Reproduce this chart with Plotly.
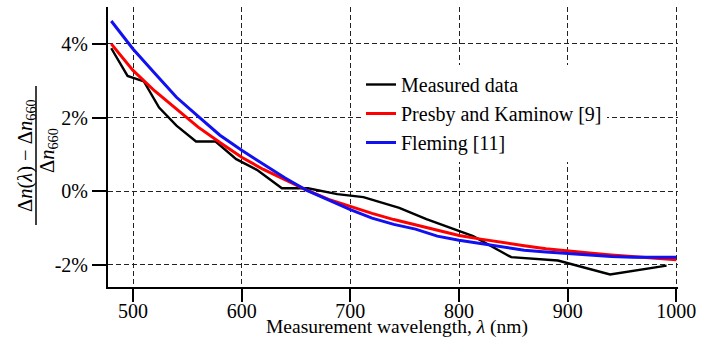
import plotly.graph_objects as go

# Measured data
meas_wl = [480, 495, 510, 524, 540, 558, 576, 595, 614, 637, 661, 688, 712, 745, 770, 798, 813, 848, 891, 939, 991]
meas_val = [3.88, 3.13, 2.98, 2.27, 1.78, 1.35, 1.35, 0.87, 0.58, 0.08, 0.08, -0.08, -0.16, -0.45, -0.76, -1.06, -1.22, -1.79, -1.88, -2.26, -2.02]

# Presby and Kaminow [9]
pk_wl = [480, 500, 520, 540, 560, 580, 600, 620, 640, 660, 680, 700, 720, 740, 760, 780, 800, 820, 840, 860, 880, 900, 920, 940, 960, 980, 1000]
pk_val = [4.00, 3.28, 2.72, 2.23, 1.74, 1.32, 0.92, 0.59, 0.31, 0.03, -0.22, -0.42, -0.60, -0.77, -0.92, -1.06, -1.20, -1.30, -1.40, -1.48, -1.56, -1.63, -1.68, -1.73, -1.78, -1.82, -1.86]

# Fleming [11]
fl_wl = [480, 500, 520, 540, 560, 580, 600, 620, 640, 660, 680, 700, 720, 740, 760, 780, 800, 820, 840, 860, 880, 900, 920, 940, 960, 980, 1000]
fl_val = [4.62, 3.86, 3.20, 2.55, 2.03, 1.52, 1.11, 0.74, 0.36, 0.02, -0.24, -0.50, -0.73, -0.90, -1.03, -1.22, -1.33, -1.42, -1.52, -1.60, -1.65, -1.69, -1.74, -1.77, -1.79, -1.79, -1.79]

x_ticks = [500, 600, 700, 800, 900, 1000]
x_tick_labels = ["500", "600", "700", "800", "900", "1000"]
y_ticks = [-2, 0, 2, 4]
y_tick_labels = ["-2%", "0%", "2%", "4%"]

FONT = "Liberation Serif"

fig = go.Figure()
fig.add_trace(go.Scatter(x=meas_wl, y=meas_val, mode="lines", name="Measured data",
                         line=dict(color="#000000", width=2.4)))
fig.add_trace(go.Scatter(x=pk_wl, y=pk_val, mode="lines", name="Presby and Kaminow [9]",
                         line=dict(color="#ff0000", width=3)))
fig.add_trace(go.Scatter(x=fl_wl, y=fl_val, mode="lines", name="Fleming [11]",
                         line=dict(color="#1010f0", width=3)))

W, H = 722, 341
L, R, T, B = 108, 44, 7, 54
PW, PH = W - L - R, H - T - B

def px2paper_x(px):
    return (px - L) / PW

def px2paper_y(py):
    return (H - B - py) / PH

fig.update_layout(
    width=W, height=H,
    margin=dict(l=L, r=R, t=T, b=B, pad=0),
    paper_bgcolor="white", plot_bgcolor="white",
    font=dict(family=FONT, size=20, color="#000"),
    showlegend=True,
    legend=dict(x=px2paper_x(361), y=px2paper_y(65), xanchor="left", yanchor="top",
                bgcolor="white", borderwidth=0, font=dict(family=FONT, size=20, color="#000"),
                itemwidth=30),
    xaxis=dict(range=[477, 1001.5], tickvals=x_ticks, ticktext=x_tick_labels,
               showline=True, linecolor="#000", linewidth=2, mirror=False,
               ticks="outside", ticklen=13, tickwidth=2, tickcolor="#000",
               ticklabelstandoff=-8,
               showgrid=True, gridcolor="#222", gridwidth=1, griddash="5px,3px",
               zeroline=False, tickfont=dict(family=FONT, size=20, color="#000")),
    yaxis=dict(range=[-2.6, 5.0], tickvals=y_ticks, ticktext=y_tick_labels,
               showline=True, linecolor="#000", linewidth=2, mirror=False,
               ticks="outside", ticklen=14, tickwidth=2, tickcolor="#000",
               showgrid=True, gridcolor="#222", gridwidth=1, griddash="5px,3px",
               zeroline=False, tickfont=dict(family=FONT, size=20, color="#000")),
)

# x-axis title
fig.add_annotation(text="Measurement wavelength, <i>λ</i> (nm)", xref="paper", yref="paper",
                   x=px2paper_x(396.5), y=px2paper_y(327), xanchor="center", yanchor="middle",
                   showarrow=False, font=dict(family=FONT, size=19.5, color="#000"))

# y-axis title as a fraction
fig.add_annotation(text="Δ<i>n</i>(<i>λ</i>) − Δ<i>n</i><sub>660</sub>", xref="paper", yref="paper",
                   x=px2paper_x(26), y=px2paper_y(156), xanchor="center", yanchor="middle",
                   textangle=-90, showarrow=False, font=dict(family=FONT, size=20.5, color="#000"))
fig.add_annotation(text="Δ<i>n</i><sub>660</sub>", xref="paper", yref="paper",
                   x=px2paper_x(48), y=px2paper_y(151), xanchor="center", yanchor="middle",
                   textangle=-90, showarrow=False, font=dict(family=FONT, size=20.5, color="#000"))
fig.add_shape(type="line", xref="paper", yref="paper",
              x0=px2paper_x(36), x1=px2paper_x(36), y0=px2paper_y(86), y1=px2paper_y(225),
              line=dict(color="#000", width=1.5))

fig.write_html("out.html")
